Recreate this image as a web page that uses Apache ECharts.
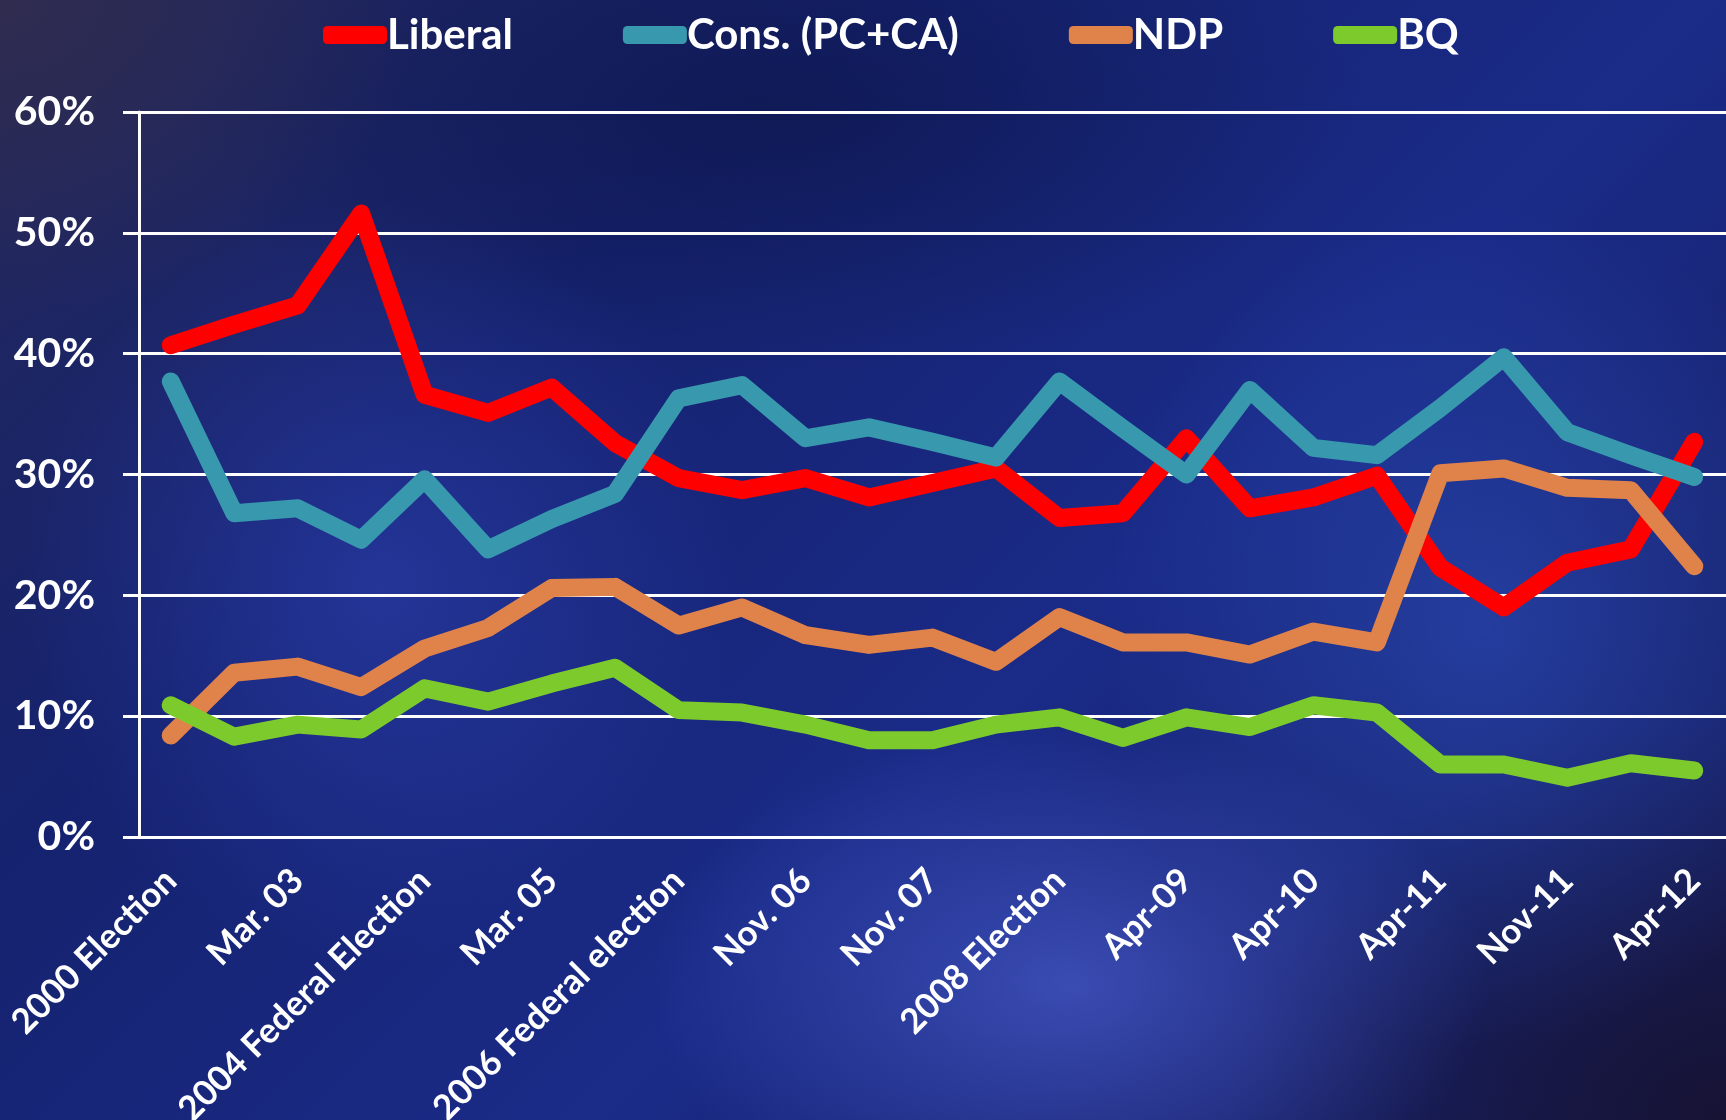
<!DOCTYPE html>
<html>
<head>
<meta charset="utf-8">
<script src="https://cdn.jsdelivr.net/npm/echarts@6/dist/echarts.min.js"></script>
<style>
  html, body { margin: 0; padding: 0; }
  #main {
    width: 1726px;
    height: 1120px;
    background:
      radial-gradient(ellipse 420px 260px at 62% 88%, rgba(85,105,225,0.55), rgba(85,105,225,0) 100%),
      radial-gradient(ellipse 380px 420px at 86% 56%, rgba(45,80,190,0.55), rgba(45,80,190,0) 100%),
      radial-gradient(ellipse 360px 380px at 22% 52%, rgba(50,70,190,0.5), rgba(50,70,190,0) 100%),
      radial-gradient(ellipse 500px 400px at 100% 100%, rgba(22,18,48,0.9), rgba(22,18,48,0) 100%),
      radial-gradient(ellipse 420px 320px at 0% 0%, rgba(48,44,78,0.9), rgba(48,44,78,0) 100%),
      radial-gradient(ellipse 600px 260px at 45% 10%, rgba(12,20,70,0.6), rgba(12,20,70,0) 100%),
      linear-gradient(135deg, #24285a 0%, #15226e 30%, #1a2b88 60%, #161c58 100%);
  }
</style>
</head>
<body>
<div id="main"></div>
<script>
// poll dates, only every other one is labelled on the axis
const categories = [
  '2000 Election', '', 'Mar. 03', '', '2004 Federal Election', '', 'Mar. 05', '',
  '2006 Federal election', '', 'Nov. 06', '', 'Nov. 07', '', '2008 Election', '',
  'Apr-09', '', 'Apr-10', '', 'Apr-11', '', 'Nov-11', '', 'Apr-12'
]

const liberal = [40.7, 42.4, 44.0, 51.6, 36.6, 35.1, 37.2, 32.6, 29.7, 28.7, 29.7, 28.1, 29.3, 30.5, 26.4, 26.8, 33.0, 27.2, 28.1, 29.9, 22.3, 19.0, 22.7, 23.8, 32.7]
const cons = [37.7, 26.8, 27.2, 24.6, 29.6, 23.8, 26.3, 28.4, 36.3, 37.4, 33.0, 33.9, 32.7, 31.4, 37.7, 33.8, 30.0, 37.0, 32.2, 31.6, 35.5, 39.7, 33.5, 31.6, 29.8]
const ndp = [8.4, 13.6, 14.1, 12.4, 15.6, 17.3, 20.6, 20.7, 17.5, 19.0, 16.7, 15.9, 16.5, 14.5, 18.2, 16.1, 16.1, 15.1, 17.0, 16.1, 30.1, 30.5, 28.9, 28.7, 22.4]
const bq = [10.9, 8.3, 9.3, 8.9, 12.3, 11.2, 12.7, 14.0, 10.5, 10.3, 9.3, 8.0, 8.0, 9.3, 9.9, 8.2, 9.9, 9.1, 10.9, 10.3, 6.0, 6.0, 4.9, 6.1, 5.5]

const yTicks = { min: 0, max: 60, interval: 10 }

const font = 'Lato, "Open Sans", sans-serif'

const makeSeries = (name, data, color) => {
  return {
    name: name,
    type: 'line',
    data: data,
    showSymbol: false,
    symbol: 'none',
    color: color,
    lineStyle: { width: 18, color: color, cap: 'round', join: 'round' }
  }
}

const option = {
  backgroundColor: 'transparent',
  animation: false,
  legend: {
    left: 318,
    top: 9,
    itemWidth: 64,
    itemHeight: 18,
    itemGap: 110,
    icon: 'roundRect',
    textStyle: { color: '#fff', fontFamily: font, fontWeight: 'bold', fontSize: 42, padding: [0, 0, 0, -5] }
  },
  grid: { left: 139, right: 0, top: 112, bottom: 283, outerBoundsMode: 'none', containLabel: false },
  xAxis: {
    type: 'category',
    data: categories,
    boundaryGap: true,
    axisLine: { lineStyle: { color: '#fff', width: 3 } },
    axisTick: { interval: 0, length: 13, lineStyle: { color: '#fff', width: 3 } },
    axisLabel: {
      interval: 1,
      rotate: 45,
      margin: 38,
      color: '#fff',
      fontFamily: font,
      fontWeight: 'bold',
      fontSize: 35
    }
  },
  yAxis: {
    type: 'value',
    min: yTicks.min,
    max: yTicks.max,
    interval: yTicks.interval,
    axisLine: { show: true, lineStyle: { color: '#fff', width: 3 } },
    axisTick: { show: true, length: 16, lineStyle: { color: '#fff', width: 3 } },
    splitLine: { lineStyle: { color: '#fff', width: 3 } },
    axisLabel: {
      formatter: '{value}%',
      margin: 44,
      color: '#fff',
      fontFamily: font,
      fontWeight: 'bold',
      fontSize: 41
    }
  },
  series: [
    makeSeries('Liberal', liberal, '#ff0000'),
    makeSeries('Cons. (PC+CA)', cons, '#3898ae'),
    makeSeries('NDP', ndp, '#e0834a'),
    makeSeries('BQ', bq, '#7dca2c')
  ]
}

var myChart = echarts.init(document.getElementById('main'))
myChart.setOption(option)
</script>
</body>
</html>
